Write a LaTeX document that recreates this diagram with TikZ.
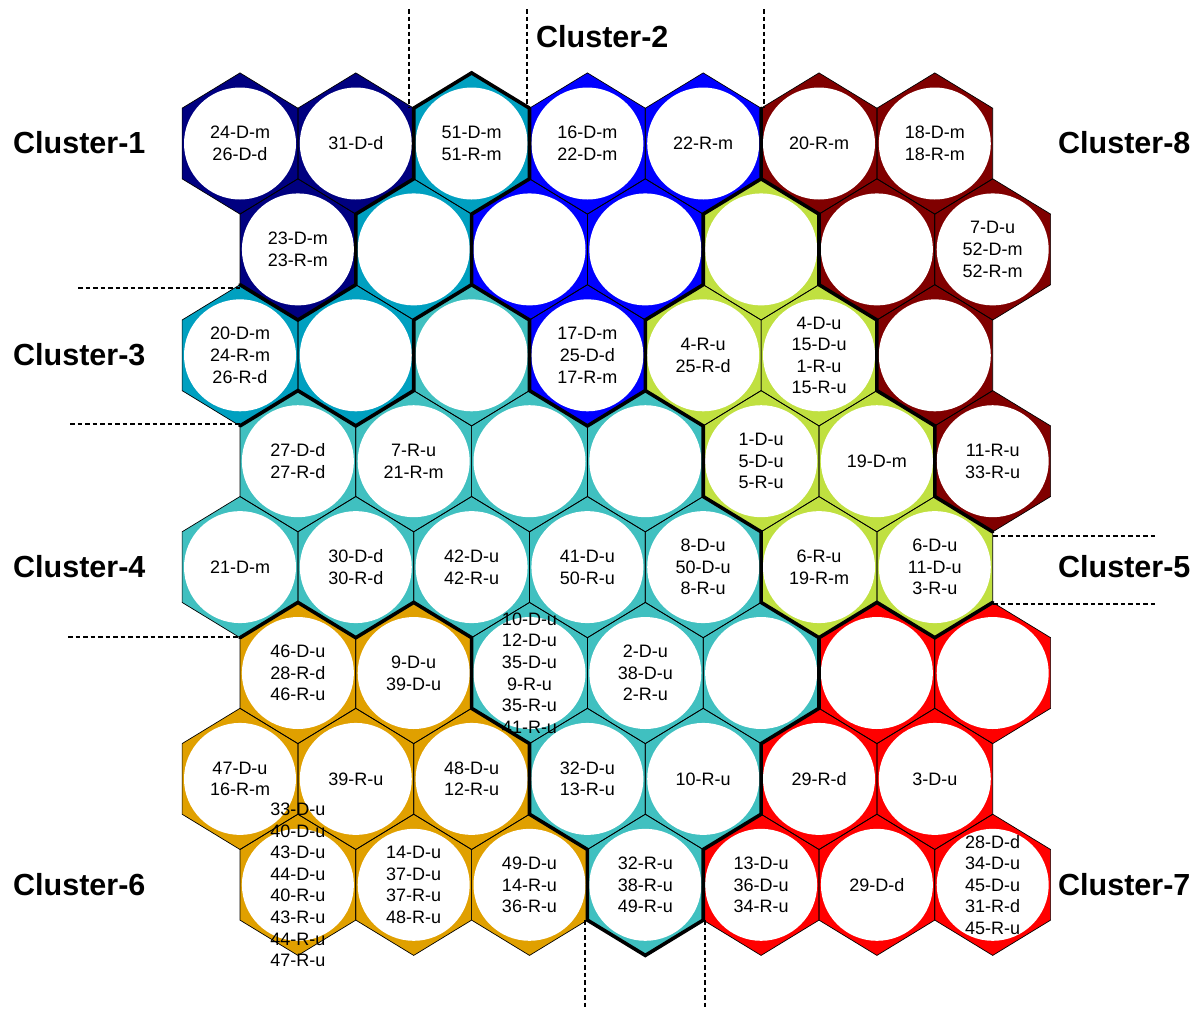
\documentclass[tikz,border=0pt]{standalone}
\usepackage{fontspec}
\setmainfont{Liberation Sans}
\definecolor{cA}{HTML}{000080}
\definecolor{cB}{HTML}{0000FF}
\definecolor{cC}{HTML}{00A0C0}
\definecolor{cD}{HTML}{40C0C0}
\definecolor{cE}{HTML}{C0E040}
\definecolor{cF}{HTML}{E0A000}
\definecolor{cG}{HTML}{FF0000}
\definecolor{cH}{HTML}{800000}
\tikzset{
  hexline/.style={draw=black, line width=0.7pt},
  bound/.style={draw=black, line width=3.6pt, line join=miter, line cap=round},
  sep/.style={draw=black, dash pattern=on 4.5pt off 3pt, line width=1.3pt},
  lbl/.style={inner sep=0pt, align=center, font=\fontsize{18}{21.6}\selectfont},
  clab/.style={inner sep=0pt, anchor=west, font=\fontsize{30.5}{36}\selectfont\bfseries},
}
\def\hexlist{0/0/cA,2/0/cA,4/0/cC,6/0/cB,8/0/cB,10/0/cH,12/0/cH,
 1/3/cA,3/3/cC,5/3/cB,7/3/cB,9/3/cE,11/3/cH,13/3/cH,
 0/6/cC,2/6/cC,4/6/cD,6/6/cB,8/6/cE,10/6/cE,12/6/cH,
 1/9/cD,3/9/cD,5/9/cD,7/9/cD,9/9/cE,11/9/cE,13/9/cH,
 0/12/cD,2/12/cD,4/12/cD,6/12/cD,8/12/cD,10/12/cE,12/12/cE,
 1/15/cF,3/15/cF,5/15/cD,7/15/cD,9/15/cD,11/15/cG,13/15/cG,
 0/18/cF,2/18/cF,4/18/cF,6/18/cD,8/18/cD,10/18/cG,12/18/cG,
 1/21/cF,3/21/cF,5/21/cF,7/21/cD,9/21/cG,11/21/cG,13/21/cG}
\begin{document}
\begin{tikzpicture}[x=1pt,y=-1pt]
\useasboundingbox (0,0) rectangle (1199,1013);
\clip (0,0) rectangle (1199,1013);
\fill[white] (0,0) rectangle (1199,1013);
\begin{scope}[shift={(240pt,-143.5pt)},x=57.9pt,y=-35.3pt]
% fills and white circles
\foreach \X/\Y/\cc in \hexlist {
  \fill[\cc] (\X,\Y-2) -- (\X+1,\Y-1) -- (\X+1,\Y+1) -- (\X,\Y+2) -- (\X-1,\Y+1) -- (\X-1,\Y-1) -- cycle;
  \fill[white] (\X,\Y) circle[radius=56pt];
}
% thin outlines
\foreach \X/\Y/\cc in \hexlist {
  \draw[hexline] (\X,\Y-2) -- (\X+1,\Y-1) -- (\X+1,\Y+1) -- (\X,\Y+2) -- (\X-1,\Y+1) -- (\X-1,\Y-1) -- cycle;
}
% thick cluster boundaries
\draw[bound] (5,-1) -- (4,-2) -- (3,-1) -- (3,1) -- (2,2) -- (2,4) -- (1,5) -- (0,4);
\draw[bound] (5,-1) -- (5,1) -- (4,2) -- (4,4) -- (3,5) -- (3,7) -- (2,8) -- (1,7) -- (0,8);
\draw[bound] (4,4) -- (5,5) -- (5,7) -- (6,8) -- (7,7) -- (7,5) -- (8,4) -- (8,2) -- (9,1) -- (9,-1);
\draw[bound] (9,1) -- (10,2) -- (10,4) -- (11,5) -- (11,7) -- (12,8) -- (12,10) -- (13,11);
\draw[bound] (7,7) -- (8,8) -- (8,10) -- (9,11) -- (9,13) -- (10,14) -- (11,13) -- (12,14) -- (13,13);
\draw[bound] (10,14) -- (10,16) -- (9,17) -- (9,19) -- (8,20) -- (8,22) -- (7,23) -- (6,22) -- (6,20) -- (5,19) -- (5,17) -- (4,16) -- (4,14) -- (3,13) -- (2,14) -- (1,13) -- (0,14);
% texts
\node[lbl] (h11) at (0,0) {24-D-m\\26-D-d};
\node[lbl] (h12) at (2,0) {31-D-d};
\node[lbl] (h13) at (4,0) {51-D-m\\51-R-m};
\node[lbl] (h14) at (6,0) {16-D-m\\22-D-m};
\node[lbl] (h15) at (8,0) {22-R-m};
\node[lbl] (h16) at (10,0) {20-R-m};
\node[lbl] (h17) at (12,0) {18-D-m\\18-R-m};
\node[lbl] (h21) at (1,3) {23-D-m\\23-R-m};
\node[lbl] (h27) at (13,3) {7-D-u\\52-D-m\\52-R-m};
\node[lbl] (h31) at (0,6) {20-D-m\\24-R-m\\26-R-d};
\node[lbl] (h34) at (6,6) {17-D-m\\25-D-d\\17-R-m};
\node[lbl] (h35) at (8,6) {4-R-u\\25-R-d};
\node[lbl] (h36) at (10,6) {4-D-u\\15-D-u\\1-R-u\\15-R-u};
\node[lbl] (h41) at (1,9) {27-D-d\\27-R-d};
\node[lbl] (h42) at (3,9) {7-R-u\\21-R-m};
\node[lbl] (h45) at (9,9) {1-D-u\\5-D-u\\5-R-u};
\node[lbl] (h46) at (11,9) {19-D-m};
\node[lbl] (h47) at (13,9) {11-R-u\\33-R-u};
\node[lbl] (h51) at (0,12) {21-D-m};
\node[lbl] (h52) at (2,12) {30-D-d\\30-R-d};
\node[lbl] (h53) at (4,12) {42-D-u\\42-R-u};
\node[lbl] (h54) at (6,12) {41-D-u\\50-R-u};
\node[lbl] (h55) at (8,12) {8-D-u\\50-D-u\\8-R-u};
\node[lbl] (h56) at (10,12) {6-R-u\\19-R-m};
\node[lbl] (h57) at (12,12) {6-D-u\\11-D-u\\3-R-u};
\node[lbl] (h61) at (1,15) {46-D-u\\28-R-d\\46-R-u};
\node[lbl] (h62) at (3,15) {9-D-u\\39-D-u};
\node[lbl] (h63) at (5,15) {10-D-u\\12-D-u\\35-D-u\\9-R-u\\35-R-u\\41-R-u};
\node[lbl] (h64) at (7,15) {2-D-u\\38-D-u\\2-R-u};
\node[lbl] (h71) at (0,18) {47-D-u\\16-R-m};
\node[lbl] (h72) at (2,18) {39-R-u};
\node[lbl] (h73) at (4,18) {48-D-u\\12-R-u};
\node[lbl] (h74) at (6,18) {32-D-u\\13-R-u};
\node[lbl] (h75) at (8,18) {10-R-u};
\node[lbl] (h76) at (10,18) {29-R-d};
\node[lbl] (h77) at (12,18) {3-D-u};
\node[lbl] (h81) at (1,21) {33-D-u\\40-D-u\\43-D-u\\44-D-u\\40-R-u\\43-R-u\\44-R-u\\47-R-u};
\node[lbl] (h82) at (3,21) {14-D-u\\37-D-u\\37-R-u\\48-R-u};
\node[lbl] (h83) at (5,21) {49-D-u\\14-R-u\\36-R-u};
\node[lbl] (h84) at (7,21) {32-R-u\\38-R-u\\49-R-u};
\node[lbl] (h85) at (9,21) {13-D-u\\36-D-u\\34-R-u};
\node[lbl] (h86) at (11,21) {29-D-d};
\node[lbl] (h87) at (13,21) {28-D-d\\34-D-u\\45-D-u\\31-R-d\\45-R-u};
\end{scope}
% dashed separators
\coordinate (t1a) at (409,9);   \coordinate (t1b) at (409,108);
\coordinate (t2a) at (527,9);   \coordinate (t2b) at (527,108);
\coordinate (t3a) at (764,9);   \coordinate (t3b) at (764,108);
\coordinate (l1a) at (78,288);  \coordinate (l1b) at (240,288);
\coordinate (l2a) at (70,424);  \coordinate (l2b) at (240,424);
\coordinate (l3a) at (68,637);  \coordinate (l3b) at (240,637);
\coordinate (r1a) at (993,536); \coordinate (r1b) at (1157,536);
\coordinate (r2a) at (993,604); \coordinate (r2b) at (1157,604);
\coordinate (b1a) at (585,920); \coordinate (b1b) at (585,1010);
\coordinate (b2a) at (705,920); \coordinate (b2b) at (705,1010);
\draw[sep] (t1a) -- (t1b);
\draw[sep] (t2a) -- (t2b);
\draw[sep] (t3a) -- (t3b);
\draw[sep] (l1a) -- (l1b);
\draw[sep] (l2a) -- (l2b);
\draw[sep] (l3a) -- (l3b);
\draw[sep] (r1a) -- (r1b);
\draw[sep] (r2a) -- (r2b);
\draw[sep] (b1a) -- (b1b);
\draw[sep] (b2a) -- (b2b);
% cluster labels
\node[clab] (c1) at (13,143) {Cluster-1};
\node[clab] (c2) at (536,37) {Cluster-2};
\node[clab] (c3) at (13,355) {Cluster-3};
\node[clab] (c4) at (13,567) {Cluster-4};
\node[clab] (c5) at (1058,567) {Cluster-5};
\node[clab] (c6) at (13,885) {Cluster-6};
\node[clab] (c7) at (1058,885) {Cluster-7};
\node[clab] (c8) at (1058,143) {Cluster-8};
\end{tikzpicture}
\end{document}
